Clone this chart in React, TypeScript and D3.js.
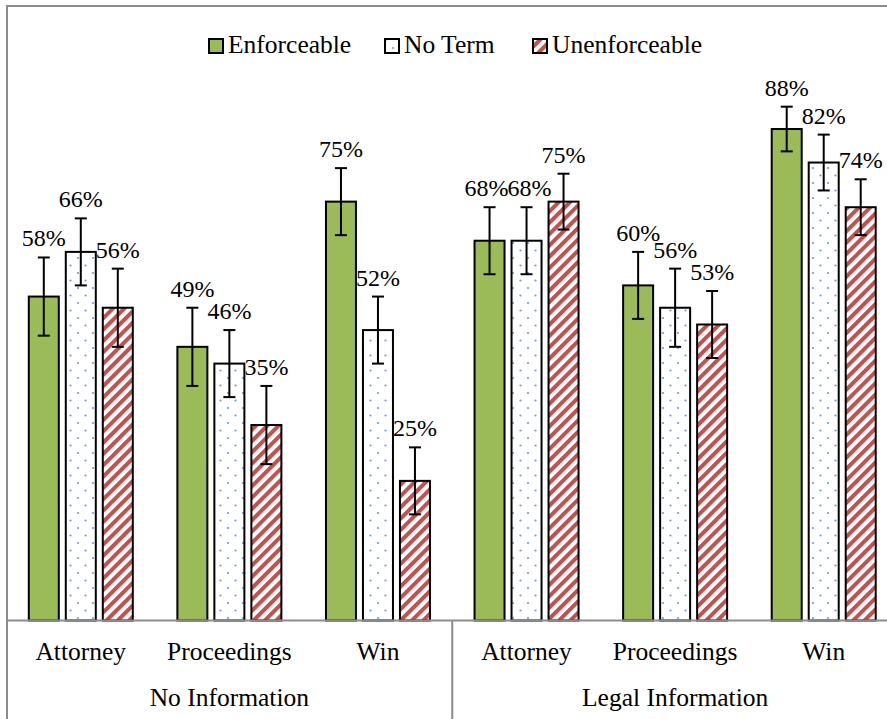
import React from "react";
import * as d3 from "d3";

const categories = ["Attorney", "Proceedings", "Win", "Attorney", "Proceedings", "Win"];
const groups = ["No Information", "Legal Information"];
const seriesNames = ["Enforceable", "No Term", "Unenforceable"];
const enforceable = [0.58, 0.49, 0.75, 0.68, 0.6, 0.88];
const noTerm = [0.66, 0.46, 0.52, 0.68, 0.56, 0.82];
const unenforceable = [0.56, 0.35, 0.25, 0.75, 0.53, 0.74];
const enforceableErr = [0.07, 0.07, 0.06, 0.06, 0.06, 0.04];
const noTermErr = [0.06, 0.06, 0.06, 0.06, 0.07, 0.05];
const unenforceableErr = [0.07, 0.07, 0.06, 0.05, 0.06, 0.05];

const W = 887;
const H = 719;
const FONT = "Liberation Serif";

export default function App() {
  const values = [enforceable, noTerm, unenforceable];
  const errs = [enforceableErr, noTermErr, unenforceableErr];
  const keys = categories.map((c, i) => `${i}-${c}`);

  const x0 = d3.scaleBand<string>().domain(keys).range([6.5, 898]).padding(0);
  const groupW = 104;
  const x1 = d3
    .scaleBand<string>()
    .domain(seriesNames)
    .range([0, groupW])
    .paddingInner(7 / 37)
    .paddingOuter(0);
  const y = d3.scaleLinear().domain([0, 1]).range([620.5, 62]);
  const baseY = y(0);
  const off = (x0.bandwidth() - groupW) / 2;
  const groupScale = d3.scaleBand<string>().domain(groups).range([6.5, 898]);

  const fills = ["#9BBB59", "url(#dots)", "url(#stripes)"];
  const legendX = [208, 384, 532];
  const bw = x1.bandwidth();
  const labelFont = 24;
  const labelW = labelFont * 1.75;

  // label positions with simple collision avoidance within a category
  const labels = keys.map((k, ci) => {
    const items = seriesNames.map((s, si) => {
      const v = values[si][ci];
      const e = errs[si][ci];
      const cx = (x0(k) as number) + off + (x1(s) as number) + bw / 2;
      return { cx, lx: cx, ly: y(v + e) - 11, text: d3.format(".0%")(v) };
    });
    for (let i = 0; i < items.length - 1; i++) {
      const a = items[i];
      const b = items[i + 1];
      if (Math.abs(a.ly - b.ly) < 16) {
        const overlap = labelW - (b.lx - a.lx) + 1;
        if (overlap > 0) {
          a.lx -= overlap / 2;
          b.lx += overlap / 2;
        }
      }
    }
    return items;
  });

  return (
    <svg
      width={W}
      height={H}
      fontFamily={FONT}
      style={{ position: "absolute", left: 0, top: 0, display: "block", background: "#fff" }}
    >
      <defs>
        <pattern id="dots" patternUnits="userSpaceOnUse" width={15} height={15}>
          <rect width={15} height={15} fill="#fff" />
          <circle cx={3} cy={3} r={1.1} fill="#6E9BD8" />
          <circle cx={10.5} cy={10.5} r={1.1} fill="#6E9BD8" />
        </pattern>
        <pattern
          id="stripes"
          patternUnits="userSpaceOnUse"
          width={8}
          height={8}
          patternTransform="rotate(45)"
        >
          <rect width={8} height={8} fill="#fff" />
          <rect width={4} height={8} fill="#C5504D" />
        </pattern>
      </defs>
      <rect x={0} y={0} width={W} height={H} fill="#fff" />
      <rect x={7} y={6} width={890} height={716} fill="none" stroke="#8c8c8c" strokeWidth={2} />

      {/* legend */}
      {seriesNames.map((s, i) => (
        <g key={s}>
          <rect x={legendX[i] + 1} y={39} width={14} height={14} fill={fills[i]} stroke="#000" strokeWidth={2} />
          <text x={legendX[i] + 20} y={53} fontSize={25.5} fill="#000" fontFamily={FONT}>
            {s}
          </text>
        </g>
      ))}

      {/* bars */}
      {keys.map((k, ci) => (
        <g key={k}>
          {seriesNames.map((s, si) => {
            const v = values[si][ci];
            const bx = (x0(k) as number) + off + (x1(s) as number);
            const by = y(v);
            return (
              <rect
                key={s}
                x={bx}
                y={by}
                width={bw}
                height={baseY - by}
                fill={fills[si]}
                stroke="#000"
                strokeWidth={2}
              />
            );
          })}
        </g>
      ))}

      {/* error bars and labels */}
      {keys.map((k, ci) => (
        <g key={"e" + k}>
          {seriesNames.map((s, si) => {
            const v = values[si][ci];
            const e = errs[si][ci];
            const cx = (x0(k) as number) + off + (x1(s) as number) + bw / 2;
            const yt = y(v + e);
            const yb = y(v - e);
            const lab = labels[ci][si];
            return (
              <g key={s}>
                <line x1={cx} x2={cx} y1={yt} y2={yb} stroke="#000" strokeWidth={2} />
                <line x1={cx - 6} x2={cx + 6} y1={yt} y2={yt} stroke="#000" strokeWidth={2} />
                <line x1={cx - 6} x2={cx + 6} y1={yb} y2={yb} stroke="#000" strokeWidth={2} />
                <text
                  x={lab.lx}
                  y={lab.ly}
                  fontSize={labelFont}
                  textAnchor="middle"
                  fill="#000"
                  fontFamily={FONT}
                >
                  {lab.text}
                </text>
              </g>
            );
          })}
        </g>
      ))}

      {/* axis */}
      <line x1={7} x2={W} y1={baseY} y2={baseY} stroke="#8c8c8c" strokeWidth={2} />
      <line
        x1={groupScale(groups[1]) as number}
        x2={groupScale(groups[1]) as number}
        y1={baseY}
        y2={H}
        stroke="#8c8c8c"
        strokeWidth={2}
      />
      {keys.map((k, ci) => (
        <text
          key={"c" + k}
          x={(x0(k) as number) + x0.bandwidth() / 2}
          y={660}
          fontSize={25.5}
          textAnchor="middle"
          fill="#000"
          fontFamily={FONT}
        >
          {categories[ci]}
        </text>
      ))}
      {groups.map((g) => (
        <text
          key={g}
          x={(groupScale(g) as number) + groupScale.bandwidth() / 2}
          y={706}
          fontSize={25.5}
          textAnchor="middle"
          fill="#000"
          fontFamily={FONT}
        >
          {g}
        </text>
      ))}
    </svg>
  );
}
